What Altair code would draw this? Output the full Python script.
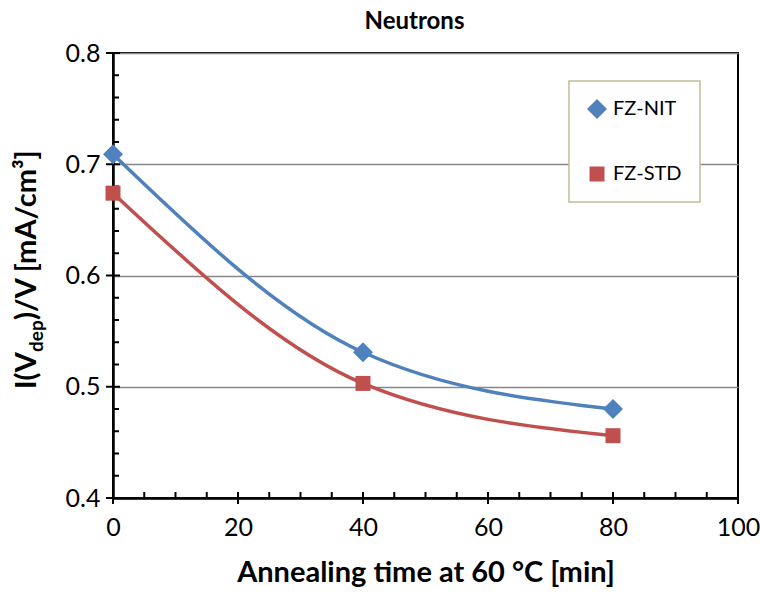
import altair as alt
import pandas as pd

# ---- data ----
series_names = ["FZ-NIT", "FZ-STD"]
time_min = [0, 40, 80]
fz_nit = [0.709, 0.531, 0.480]
fz_std = [0.674, 0.503, 0.456]

y_major = [0.4, 0.5, 0.6, 0.7, 0.8]
y_minor = [0.42, 0.44, 0.46, 0.48, 0.52, 0.54, 0.56, 0.58,
           0.62, 0.64, 0.66, 0.68, 0.72, 0.74, 0.76, 0.78]
x_major = [0, 20, 40, 60, 80, 100]
x_minor = [5, 10, 15, 25, 30, 35, 45, 50, 55, 65, 70, 75, 85, 90, 95]

colors = ["#4F81BD", "#C0504D"]
shapes = ["diamond", "square"]
FONT = "Lato"

rows = []
for t, v in zip(time_min, fz_nit):
    rows.append({"time": t, "value": v, "series": "FZ-NIT"})
for t, v in zip(time_min, fz_std):
    rows.append({"time": t, "value": v, "series": "FZ-STD"})
df = pd.DataFrame(rows)

W, H = 625, 445
xs = alt.Scale(domain=[0, 100], nice=False, zero=False)
ys = alt.Scale(domain=[0.4, 0.8], nice=False, zero=False)

color_enc = alt.Color("series:N", scale=alt.Scale(domain=series_names, range=colors),
                      legend=alt.Legend(title=None, orient="none", legendX=456, legendY=28))
shape_enc = alt.Shape("series:N", scale=alt.Scale(domain=series_names, range=shapes),
                      legend=alt.Legend(title=None, orient="none", legendX=456, legendY=28))

x_enc = alt.X("time:Q", scale=xs,
              axis=alt.Axis(values=x_major, title="Annealing time at 60 °C [min]",
                            grid=False, ticks=False, labelPadding=17, labelFontSize=25,
                            labelFlush=False, labelFont=FONT, labelColor="black",
                            titleFont=FONT, titleFontSize=29, titleFontWeight="bold",
                            titleColor="black", titlePadding=18,
                            domainColor="black", domainWidth=2.5))
y_enc = alt.Y("value:Q", scale=ys,
              axis=alt.Axis(values=y_major, title=None, format=".1f",
                            grid=True, gridColor="#878787", gridWidth=1.5,
                            ticks=False, labelPadding=13, labelFontSize=25,
                            labelFlush=False, labelFont=FONT, labelColor="black",
                            domainColor="black", domainWidth=2.5))

lines = alt.Chart(df).mark_line(interpolate="monotone", strokeWidth=3.5).encode(
    x=x_enc, y=y_enc, color=color_enc)

points = alt.Chart(df).mark_point(filled=True, opacity=1).encode(
    x="time:Q", y="value:Q", color=color_enc, shape=shape_enc,
    size=alt.Size("series:N", scale=alt.Scale(domain=series_names, range=[400, 225]),
                  legend=None))

# tick marks (crossing majors, inside minors)
ymaj = alt.Chart(pd.DataFrame({"v": y_major})).mark_rule(color="black", strokeWidth=2).encode(
    y=alt.Y("v:Q", scale=ys), x=alt.value(-7), x2=alt.value(7))
ymin = alt.Chart(pd.DataFrame({"v": y_minor})).mark_rule(color="black", strokeWidth=2).encode(
    y=alt.Y("v:Q", scale=ys), x=alt.value(0), x2=alt.value(6))
xmaj = alt.Chart(pd.DataFrame({"v": x_major})).mark_rule(color="black", strokeWidth=2).encode(
    x=alt.X("v:Q", scale=xs), y=alt.value(H - 6), y2=alt.value(H + 6))
xmin = alt.Chart(pd.DataFrame({"v": x_minor})).mark_rule(color="black", strokeWidth=2).encode(
    x=alt.X("v:Q", scale=xs), y=alt.value(H - 6), y2=alt.value(H))

# y-axis title with subscript, built from text pieces
yt1 = alt.Chart(pd.DataFrame({"t": ["I(V"]})).mark_text(
    angle=270, align="right", baseline="alphabetic", font=FONT, fontSize=29,
    fontWeight="bold", color="black").encode(text="t:N", x=alt.value(-77), y=alt.value(299))
yt2 = alt.Chart(pd.DataFrame({"t": ["dep"]})).mark_text(
    angle=270, align="left", baseline="alphabetic", font=FONT, fontSize=19,
    fontWeight="bold", color="black").encode(text="t:N", x=alt.value(-70), y=alt.value(299))
yt3 = alt.Chart(pd.DataFrame({"t": [")/V [mA/cm³]"]})).mark_text(
    angle=270, align="left", baseline="alphabetic", font=FONT, fontSize=29,
    fontWeight="bold", color="black").encode(text="t:N", x=alt.value(-77), y=alt.value(267))

chart = alt.layer(ymaj, ymin, xmaj, xmin, lines, points, yt1, yt2, yt3).properties(
    width=W, height=H,
    background="white",
    title=alt.TitleParams("Neutrons", font=FONT, fontSize=24, fontWeight="bold",
                          color="black", offset=7, dx=-11, anchor="middle"),
    autosize=alt.AutoSizeParams(type="none"),
    padding={"left": 113, "top": 53, "right": 22, "bottom": 96},
).configure_view(stroke="black", strokeWidth=2).configure_legend(
    strokeColor="#C4BD97", fillColor="white", strokeWidth=1.5, padding=18,
    rowPadding=45, labelFontSize=20, labelFont=FONT, labelColor="black",
    symbolSize=260, symbolStrokeWidth=0, labelOffset=6,
)

chart.save("out.html", embed_options={"renderer": "svg", "actions": False})
